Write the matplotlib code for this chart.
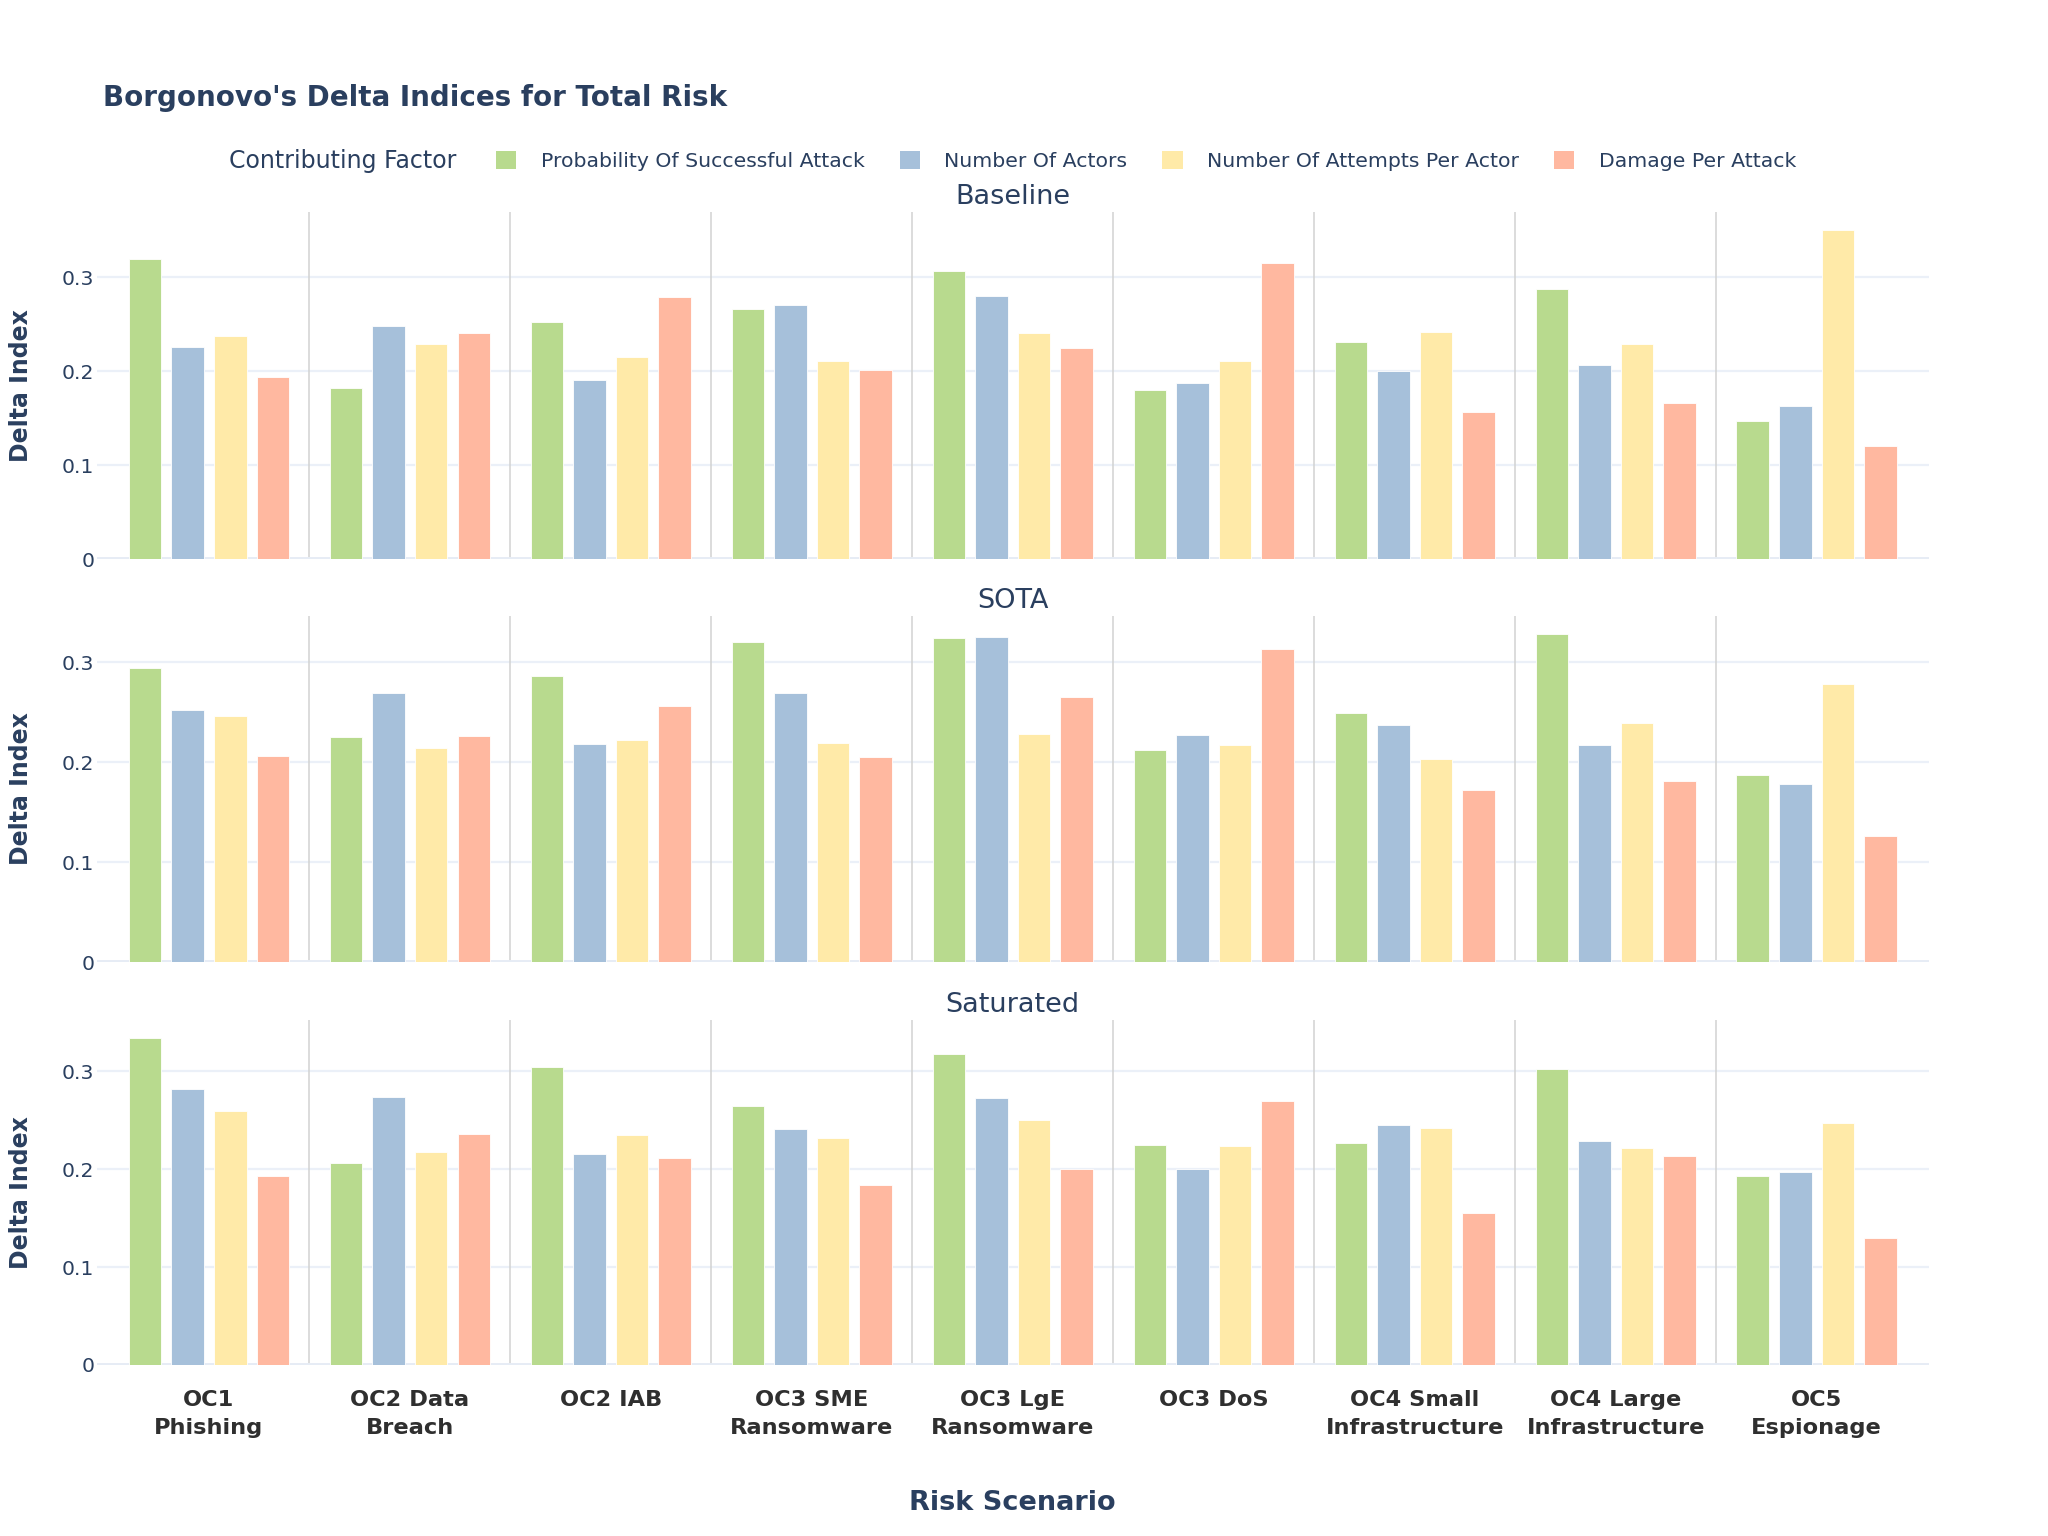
import numpy as np
import matplotlib.pyplot as plt
from matplotlib.patches import Patch

# risk scenarios (x categories)
scenarios = ['OC1\nPhishing', 'OC2 Data\nBreach', 'OC2 IAB', 'OC3 SME\nRansomware',
             'OC3 LgE\nRansomware', 'OC3 DoS', 'OC4 Small\nInfrastructure',
             'OC4 Large\nInfrastructure', 'OC5\nEspionage']
factors = ['Probability Of Successful Attack', 'Number Of Actors',
           'Number Of Attempts Per Actor', 'Damage Per Attack']
panel_names = ['Baseline', 'SOTA', 'Saturated']

# delta indices
baseline_prob = [0.319, 0.182, 0.252, 0.266, 0.306, 0.180, 0.231, 0.287, 0.147]
baseline_actors = [0.226, 0.248, 0.190, 0.270, 0.280, 0.187, 0.200, 0.206, 0.163]
baseline_attempts = [0.237, 0.229, 0.215, 0.211, 0.240, 0.211, 0.242, 0.229, 0.350]
baseline_damage = [0.194, 0.240, 0.279, 0.201, 0.224, 0.315, 0.156, 0.166, 0.120]

sota_prob = [0.294, 0.225, 0.286, 0.320, 0.324, 0.212, 0.249, 0.328, 0.187]
sota_actors = [0.252, 0.269, 0.218, 0.269, 0.325, 0.227, 0.237, 0.217, 0.178]
sota_attempts = [0.246, 0.214, 0.222, 0.219, 0.228, 0.217, 0.203, 0.239, 0.278]
sota_damage = [0.206, 0.226, 0.256, 0.205, 0.265, 0.313, 0.172, 0.181, 0.126]

sat_prob = [0.334, 0.206, 0.304, 0.265, 0.318, 0.225, 0.227, 0.302, 0.193]
sat_actors = [0.282, 0.274, 0.216, 0.241, 0.273, 0.200, 0.245, 0.229, 0.197]
sat_attempts = [0.259, 0.218, 0.235, 0.232, 0.250, 0.224, 0.242, 0.222, 0.247]
sat_damage = [0.193, 0.236, 0.211, 0.184, 0.200, 0.270, 0.155, 0.213, 0.130]

panels = [
    [baseline_prob, baseline_actors, baseline_attempts, baseline_damage],
    [sota_prob, sota_actors, sota_attempts, sota_damage],
    [sat_prob, sat_actors, sat_attempts, sat_damage],
]

colors = ['#B8DA8E', '#A6C0DA', '#FFEAA8', '#FFB8A0']
text_col = '#2a3f5f'
grid_col = '#EBF0F8'

plt.rcParams['font.family'] = ['DejaVu Sans']

fig = plt.figure(figsize=(20.48, 15.36), dpi=100)

x = np.arange(len(scenarios))
offsets = [-0.318, -0.106, 0.106, 0.318]
bw = 0.162

left, width = 97 / 2048, (1928.6 - 97) / 2048
tops = [212, 616, 1020]
heights = [347, 346, 345]

axes = []
for i, (vals, name) in enumerate(zip(panels, panel_names)):
    top, h = tops[i], heights[i]
    ax = fig.add_axes([left, 1 - (top + h) / 1536, width, h / 1536])
    axes.append(ax)
    for j in range(4):
        ax.bar(x + offsets[j], vals[j], width=bw, color=colors[j],
               edgecolor='white', linewidth=0.6, zorder=3)
    # separators between scenarios
    for b in np.arange(0.5, len(scenarios) - 1, 1.0):
        ax.axvline(b, color='#d2d2d2', linewidth=1.1, zorder=1)
    ymax = max(max(v) for v in vals) * 1.055
    ax.set_ylim(0, ymax)
    ax.set_xlim(-0.557, len(scenarios) - 1 + 0.557)
    ax.set_yticks([0, 0.1, 0.2, 0.3])
    ax.set_yticklabels(['0', '0.1', '0.2', '0.3'])
    ax.yaxis.grid(True, color=grid_col, linewidth=1.6, zorder=0)
    ax.axhline(0, color='#E6ECF5', linewidth=2.8, zorder=2)
    ax.set_axisbelow(True)
    for s in ax.spines.values():
        s.set_visible(False)
    ax.tick_params(axis='y', length=0, pad=2, labelsize=14.7, labelcolor=text_col)
    ax.tick_params(axis='x', length=0)
    ax.set_xticks(x)
    if i < 2:
        ax.set_xticklabels([])
    else:
        ax.set_xticklabels(scenarios, fontsize=16.2, fontweight='bold',
                           color='#2f2f2f', linespacing=1.5)
        ax.tick_params(axis='x', pad=18)
    ax.text(0.5, 1 + 15 / h, name, transform=ax.transAxes, ha='center',
            va='center', fontsize=19.5, color=text_col)
    fig.text(21 / 2048, 1 - (top + h / 2) / 1536, 'Delta Index', rotation=90,
             ha='center', va='center', fontsize=17, fontweight='bold',
             color=text_col)

fig.text(103 / 2048, 1 - 98 / 1536, "Borgonovo's Delta Indices for Total Risk",
         ha='left', va='center', fontsize=20, fontweight='bold', color=text_col)

fig.text(1012 / 2048, 1 - 1503 / 1536, 'Risk Scenario', ha='center', va='center',
         fontsize=19.5, fontweight='bold', color=text_col)

fig.text(229 / 2048, 1 - 161 / 1536, 'Contributing Factor', ha='left',
         va='center', fontsize=17, color=text_col)
handles = [Patch(facecolor=c, edgecolor='none') for c in colors]
leg = fig.legend(handles, factors, loc='center left',
                 bbox_to_anchor=(496 / 2048, 1 - 161 / 1536), ncol=4,
                 frameon=False, fontsize=14.7, handlelength=1.0,
                 handleheight=1.0, handletextpad=1.2, columnspacing=1.7,
                 borderpad=0, borderaxespad=0)
for t in leg.get_texts():
    t.set_color(text_col)

fig.savefig('out.png', dpi=100, facecolor='white')
